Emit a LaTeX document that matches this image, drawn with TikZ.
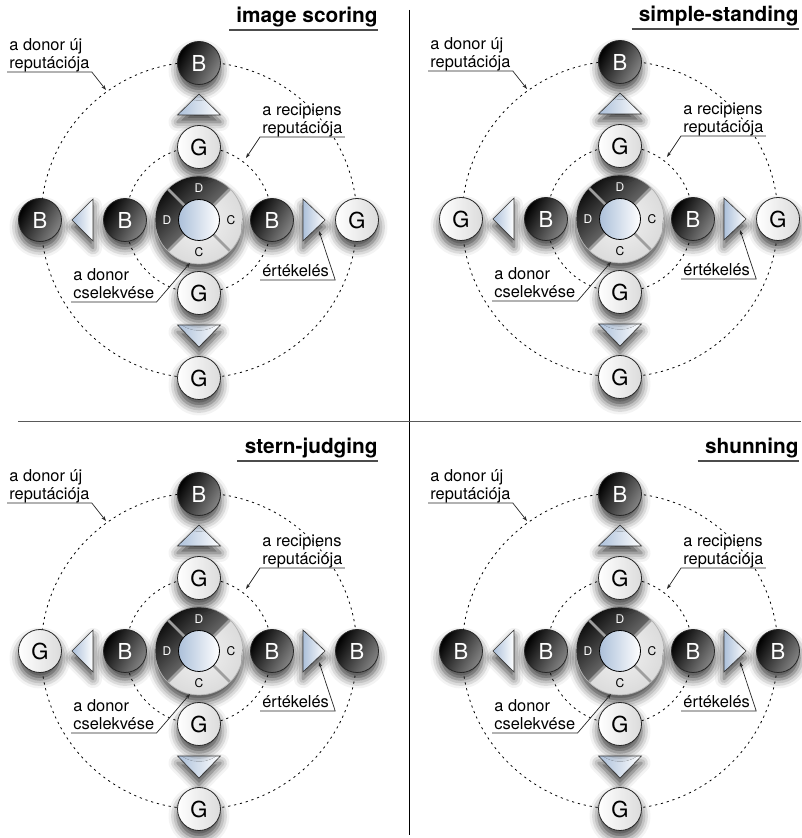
\documentclass[tikz,border=0pt]{standalone}
\usepackage{fontspec}
\setmainfont{TeX Gyre Heros}
\usetikzlibrary{arrows.meta,positioning,shadows.blur}
\definecolor{steel}{RGB}{172,192,218}
\tikzset{every picture/.style={line width=0.75pt}}
\tikzset{
  soft/.style={blur shadow={shadow xshift=0pt, shadow yshift=-7pt,
      shadow blur radius=9pt, shadow opacity=75}},
  state/.style={circle, minimum size=43pt, inner sep=0pt, draw=black!85,
    line width=0.8pt, font=\fontsize{22}{22}\selectfont, soft},
  bad/.style={state, left color=black, right color=black!48,
    shading angle=60, text=white},
  good/.style={state, left color=white, right color=black!14, text=black},
  tri/.style={draw=black!80, line width=0.6pt, left color=steel,
    right color=white, soft},
  ring/.style={dash pattern=on 2.2pt off 3.8pt, line width=0.8pt},
  note/.style={font=\fontsize{16.4}{18}\selectfont, align=left,
    anchor=south west, inner xsep=2pt, inner ysep=0pt, text depth=3pt},
  callout/.style={draw=black!85, line width=0.7pt,
    -{Stealth[length=5pt,width=3.5pt]}},
  heading/.style={font=\fontsize{20.8}{22}\selectfont\bfseries,
    anchor=south east, inner sep=0pt, text depth=7pt},
  seg/.style={font=\fontsize{12}{12}\selectfont, inner sep=0pt},
}

\begin{document}
\begin{tikzpicture}[x=1pt, y=1pt]
  \useasboundingbox (0,0) rectangle (801,838);

  % quadrant borders
  \draw[line width=1.3pt] (409.5,828) -- (409.5,3);
  \draw[black!65, line width=1.5pt] (18,416.5) -- (801,416.5);

  \foreach \px/\py/\pname/\lo/\lt/\ro/\rt/\i in {
      199/618/image scoring/bad/B/good/G/a,
      620/619/simple-standing/good/G/good/G/b,
      199/187/stern-judging/good/G/bad/B/c,
      620/187/shunning/bad/B/bad/B/d} {
  \begin{scope}[shift={(\px,\py)}, name prefix=\i-, on grid]
    % dotted rings
    \draw[ring] (0,0) circle[radius=73];
    \draw[ring] (0,0) circle[radius=158];

    % the action wheel
    \node[circle, minimum size=88pt, inner sep=0pt, draw=black!30,
      inner color=black!5, outer color=black!14, soft] (w) at (0,0) {};
    \shade[left color=black, right color=black!38, shading angle=45]
      (45:43.6) arc[start angle=45, end angle=225, radius=43.6]
      -- (225:20) arc[start angle=225, end angle=45, radius=20] -- cycle;
    \foreach \a in {45,135,225,315}
      \draw[black!38, line width=2.6pt] (\a:20) -- (\a:43.4);
    \node[circle, minimum size=41pt, inner sep=0pt, draw=black,
      line width=0.8pt, left color=steel, right color=white] (hub) at (w) {};
    \node[seg, text=white] (sd1) at (90:32) {D};
    \node[seg, text=white] (sd2) at (180:32) {D};
    \node[seg] (sc1) at (0:32) {C};
    \node[seg] (sc2) at (270:32) {C};

    % evaluation arrows
    \path[tri] (-21.5,105) -- (21.5,105) -- (0,126) -- cycle;
    \path[tri] (-21.5,-105) -- (21.5,-105) -- (0,-127) -- cycle;
    \path[tri] (-106,21) -- (-106,-21) -- (-127,0) -- cycle;
    \path[tri] (104,21) -- (104,-21) -- (126,0) -- cycle;

    % reputations
    \node[good, above=73pt of w] (it) {G};
    \node[good, below=73pt of w] (ib) {G};
    \node[bad, left=74pt of w] (il) {B};
    \node[bad, right=73pt of w] (ir) {B};
    \node[bad, above=84pt of it] (ot) {B};
    \node[good, below=85pt of ib] (ob) {G};
    \node[\lo, left=85pt of il] (ol) {\lt};
    \node[\ro, right=85pt of ir] (or) {\rt};

    % title
    \node[heading] (hd) at (179,190) {\pname};
    \draw[black!70, line width=1.4pt] ([xshift=-7pt]hd.south west) -- (hd.south east);

    % callouts
    \node[note] (l1) at (-192,148) {a donor új\\reputációja};
    \node[note] (l2) at (61,83) {a recipiens\\reputációja};
    \node[note] (l3) at (-128,-82) {a donor\\cselekvése};
    \node[note] (l4) at (61,-60) {értékelés};
    \coordinate (t1) at (-93,130);
    \coordinate (t2) at (47,62);
    \coordinate (t3) at (-9,-43);
    \coordinate (t4) at (120,-11);
    \draw[callout] (l1.south west) -- (l1.south east) -- (t1);
    \draw[callout] (l2.south east) -- (l2.south west) -- (t2);
    \draw[callout] (l3.south west) -- (l3.south east) -- (t3);
    \draw[callout] (l4.south west) -- ([xshift=4pt]l4.south east) -- (t4);
  \end{scope}
  }
\end{tikzpicture}
\end{document}
